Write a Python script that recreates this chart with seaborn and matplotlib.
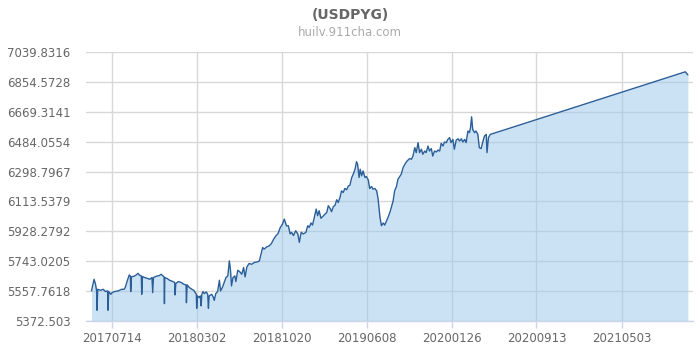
import matplotlib
matplotlib.use("Agg")
import matplotlib.pyplot as plt
import matplotlib.dates as mdates
import pandas as pd
import seaborn as sns

# USD/PYG exchange rate observations
dates = [
    "2017-05-18", "2017-05-25", "2017-05-29", "2017-06-01", "2017-06-02", "2017-06-04",
    "2017-06-12", "2017-06-19", "2017-06-25", "2017-07-01", "2017-07-02", "2017-07-04",
    "2017-07-10", "2017-07-13", "2017-07-20", "2017-07-30", "2017-08-08", "2017-08-15",
    "2017-08-18", "2017-08-24", "2017-08-29", "2017-09-01", "2017-09-02", "2017-09-04",
    "2017-09-11", "2017-09-17", "2017-09-22", "2017-09-26", "2017-10-01", "2017-10-02",
    "2017-10-04", "2017-10-10", "2017-10-17", "2017-10-24", "2017-10-30", "2017-11-01",
    "2017-11-03", "2017-11-11", "2017-11-19", "2017-11-24", "2017-11-29", "2017-12-02",
    "2017-12-03", "2017-12-04", "2017-12-11", "2017-12-17", "2017-12-26", "2017-12-31",
    "2018-01-01", "2018-01-03", "2018-01-10", "2018-01-18", "2018-01-25", "2018-01-31",
    "2018-02-01", "2018-02-03", "2018-02-09", "2018-02-16", "2018-02-21", "2018-02-25",
    "2018-02-28", "2018-03-01", "2018-03-03", "2018-03-08", "2018-03-11", "2018-03-13",
    "2018-03-15", "2018-03-18", "2018-03-22", "2018-03-27", "2018-03-31", "2018-04-02",
    "2018-04-04", "2018-04-11", "2018-04-16", "2018-04-18", "2018-04-22", "2018-04-27",
    "2018-05-02", "2018-05-05", "2018-05-10", "2018-05-15", "2018-05-20", "2018-05-25",
    "2018-05-29", "2018-06-01", "2018-06-04", "2018-06-08", "2018-06-13", "2018-06-16",
    "2018-06-21", "2018-06-26", "2018-07-02", "2018-07-07", "2018-07-11", "2018-07-16",
    "2018-07-22", "2018-07-29", "2018-08-05", "2018-08-14", "2018-08-19", "2018-08-23",
    "2018-08-28", "2018-09-01", "2018-09-08", "2018-09-15", "2018-09-21", "2018-09-27",
    "2018-10-03", "2018-10-09", "2018-10-15", "2018-10-21", "2018-10-26", "2018-11-01",
    "2018-11-06", "2018-11-11", "2018-11-15", "2018-11-20", "2018-11-26", "2018-12-02",
    "2018-12-06", "2018-12-11", "2018-12-17", "2018-12-24", "2018-12-29", "2019-01-02",
    "2019-01-07", "2019-01-11", "2019-01-16", "2019-01-21", "2019-01-25", "2019-01-29",
    "2019-02-03", "2019-02-10", "2019-02-14", "2019-02-19", "2019-02-23", "2019-02-28",
    "2019-03-04", "2019-03-09", "2019-03-13", "2019-03-18", "2019-03-22", "2019-03-27",
    "2019-03-31", "2019-04-05", "2019-04-09", "2019-04-14", "2019-04-19", "2019-04-23",
    "2019-04-28", "2019-05-02", "2019-05-07", "2019-05-11", "2019-05-14", "2019-05-18",
    "2019-05-21", "2019-05-25", "2019-05-29", "2019-06-03", "2019-06-07", "2019-06-12",
    "2019-06-16", "2019-06-21", "2019-06-25", "2019-06-30", "2019-07-05", "2019-07-09",
    "2019-07-14", "2019-07-18", "2019-07-23", "2019-07-27", "2019-08-01", "2019-08-05",
    "2019-08-10", "2019-08-14", "2019-08-19", "2019-08-23", "2019-08-28", "2019-09-01",
    "2019-09-06", "2019-09-10", "2019-09-15", "2019-09-20", "2019-09-24", "2019-09-29",
    "2019-10-03", "2019-10-08", "2019-10-12", "2019-10-17", "2019-10-21", "2019-10-26",
    "2019-10-30", "2019-11-04", "2019-11-08", "2019-11-13", "2019-11-17", "2019-11-22",
    "2019-11-26", "2019-12-01", "2019-12-05", "2019-12-10", "2019-12-15", "2019-12-19",
    "2019-12-24", "2019-12-28", "2020-01-02", "2020-01-06", "2020-01-11", "2020-01-15",
    "2020-01-20", "2020-01-24", "2020-01-29", "2020-02-02", "2020-02-07", "2020-02-12",
    "2020-02-16", "2020-02-21", "2020-02-25", "2020-03-01", "2020-03-05", "2020-03-10",
    "2020-03-14", "2020-03-17", "2020-03-20", "2020-03-23", "2020-03-28", "2020-04-01",
    "2020-04-06", "2020-04-10", "2020-04-15", "2020-04-19", "2020-04-24", "2020-04-29",
    "2020-05-01", "2020-05-05", "2020-05-10", "2021-10-24", "2021-10-31",
]

rates = [
    5559, 5631, 5600, 5559, 5439, 5569,
    5563, 5569, 5555, 5559, 5439, 5555,
    5538, 5548, 5555, 5559, 5569, 5569,
    5580, 5625, 5658, 5652, 5555, 5646,
    5650, 5658, 5668, 5656, 5652, 5538,
    5648, 5642, 5637, 5631, 5642, 5548,
    5642, 5650, 5654, 5662, 5652, 5646,
    5480, 5642, 5635, 5625, 5617, 5611,
    5534, 5604, 5617, 5611, 5600, 5596,
    5486, 5596, 5580, 5569, 5563, 5548,
    5538, 5451, 5528, 5517, 5528, 5466,
    5538, 5555, 5542, 5553, 5538, 5451,
    5528, 5538, 5517, 5501, 5542, 5555,
    5625, 5559, 5580, 5611, 5642, 5652,
    5745, 5693, 5590, 5642, 5652, 5617,
    5687, 5679, 5662, 5704, 5646, 5708,
    5729, 5724, 5735, 5739, 5745, 5782,
    5828, 5818, 5832, 5838, 5853, 5880,
    5900, 5915, 5952, 5973, 6004, 5962,
    5963, 5912, 5922, 5902, 5932, 5912,
    5860, 5922, 5912, 5922, 5963, 5953,
    5980, 5967, 6015, 6066, 6025, 6056,
    6009, 6025, 6035, 6046, 6087, 6070,
    6050, 6083, 6087, 6124, 6107, 6138,
    6179, 6169, 6194, 6186, 6210, 6214,
    6262, 6282, 6313, 6360, 6344, 6262,
    6313, 6272, 6303, 6262, 6268, 6247,
    6194, 6206, 6190, 6194, 6179, 6128,
    6015, 5963, 5980, 5967, 5994, 6015,
    6046, 6076, 6118, 6179, 6206, 6251,
    6268, 6282, 6323, 6344, 6358, 6371,
    6379, 6375, 6395, 6447, 6416, 6478,
    6416, 6437, 6406, 6426, 6416, 6457,
    6426, 6441, 6395, 6426, 6420, 6432,
    6426, 6474, 6457, 6482, 6478, 6498,
    6509, 6478, 6498, 6437, 6494, 6502,
    6488, 6502, 6482, 6498, 6478, 6550,
    6540, 6570, 6638, 6560, 6540, 6550,
    6529, 6447, 6441, 6478, 6519, 6529,
    6416, 6509, 6529, 6917, 6898,
]

y_ticks = [5372.503, 5557.7618, 5743.0205, 5928.2792, 6113.5379,
           6298.7967, 6484.0554, 6669.3141, 6854.5728, 7039.8316]
y_tick_labels = ["5372.503", "5557.7618", "5743.0205", "5928.2792", "6113.5379",
                 "6298.7967", "6484.0554", "6669.3141", "6854.5728", "7039.8316"]
x_tick_dates = ["2017-07-14", "2018-03-02", "2018-10-20", "2019-06-08",
                "2020-01-26", "2020-09-13", "2021-05-03"]
x_range = ["2017-05-03", "2021-11-14"]

title = "(USDPYG)"
subtitle = "huilv.911cha.com"

df = pd.DataFrame({"date": pd.to_datetime(dates), "rate": rates})

sns.set_theme(style="white")
plt.rcParams["font.family"] = ["DejaVu Sans"]

fig = plt.figure(figsize=(7, 3.5), dpi=100)
ax = fig.add_axes([86 / 700, 29 / 350, 607 / 700, 269 / 350])

grid_color = "#d8d8d8"
line_color = "#2a5e98"

ax.set_axisbelow(True)
ax.grid(True, axis="both", color=grid_color, linewidth=1.0)

ax.fill_between(df["date"], df["rate"], y_ticks[0], color="#99c7ed",
                alpha=0.5, linewidth=0, zorder=2)
sns.lineplot(data=df, x="date", y="rate", ax=ax, color=line_color,
             linewidth=1.0, zorder=3)

ax.set_ylim(y_ticks[0], y_ticks[-1])
ax.set_yticks(y_ticks)
ax.set_yticklabels(y_tick_labels)
ax.set_xlim(pd.to_datetime(x_range[0]), pd.to_datetime(x_range[1]))
ax.set_xticks(pd.to_datetime(x_tick_dates))
ax.xaxis.set_major_formatter(mdates.DateFormatter("%Y%m%d"))

ax.set_xlabel("")
ax.set_ylabel("")

for side in ["top", "right", "left"]:
    ax.spines[side].set_visible(False)
ax.spines["bottom"].set_color("#ccd6eb")
ax.spines["bottom"].set_linewidth(1.0)

ax.tick_params(axis="y", length=0, pad=11, labelsize=8.5, labelcolor="#666666")
ax.tick_params(axis="x", length=5, width=1, color="#ccd6eb", pad=3,
               labelsize=8.5, labelcolor="#666666", bottom=True)

fig.text(0.5, 1 - 15 / 350, title, ha="center", va="center", fontsize=10,
         fontweight="bold", color="#666666")
fig.text(0.5, 1 - 32 / 350, subtitle, ha="center", va="center", fontsize=8.5,
         color="#aaaaaa")

fig.savefig("out.png", dpi=100)
